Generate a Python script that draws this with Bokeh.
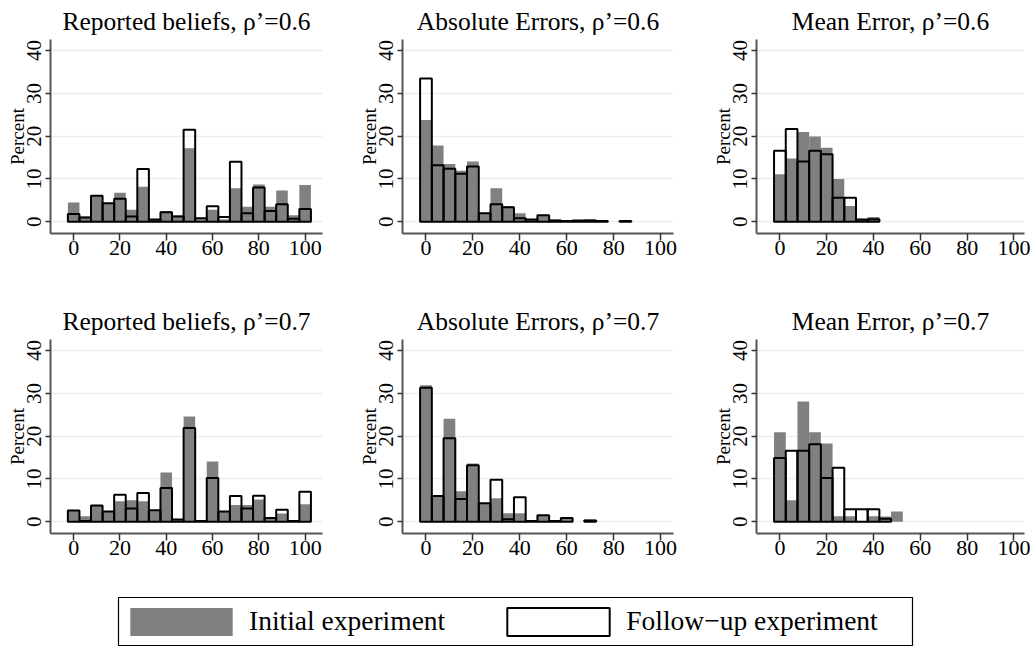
from bokeh.plotting import figure
from bokeh.layouts import column, row
from bokeh.models import Range1d, Legend, LegendItem, ColumnDataSource
from bokeh.embed import file_html
from bokeh.resources import INLINE

BIN_WIDTH = 5
x_ticks = [0, 20, 40, 60, 80, 100]
y_ticks = [0, 10, 20, 30, 40]

titles = ["Reported beliefs, ρ’=0.6", "Absolute Errors, ρ’=0.6", "Mean Error, ρ’=0.6",
          "Reported beliefs, ρ’=0.7", "Absolute Errors, ρ’=0.7", "Mean Error, ρ’=0.7"]

# bin centres for each histogram (percent of subjects per 5-point bin)
beliefs_bins = [0, 5, 10, 15, 20, 25, 30, 35, 40, 45, 50, 55, 60, 65, 70, 75, 80, 85, 90, 95, 100]
beliefs06_initial = [4.5, 1.2, 6.1, 4.3, 6.8, 2.8, 8.2, 0.4, 2.5, 1.5, 17.2, 0.6, 2.8, 0.6, 7.8, 3.5, 8.7, 3.5, 7.3, 1.5, 8.6]
beliefs06_followup = [1.8, 1.0, 6.1, 4.3, 5.4, 1.2, 12.3, 0.5, 2.2, 1.2, 21.5, 0.8, 3.6, 1.1, 14.0, 2.0, 8.0, 2.5, 4.1, 0.7, 3.0]
beliefs07_initial = [2.6, 1.3, 3.8, 2.4, 4.8, 5.0, 4.8, 2.7, 11.5, 0.3, 24.6, 0.2, 14.1, 2.4, 3.9, 3.9, 5.2, 0.9, 1.9, 0.0, 4.1]
beliefs07_followup = [2.6, 0.2, 3.8, 2.4, 6.3, 3.1, 6.7, 2.7, 7.9, 0.5, 21.9, 0.2, 10.2, 2.4, 6.0, 3.1, 6.1, 0.9, 2.8, 0.15, 7.0]

abserr06_bins = [0, 5, 10, 15, 20, 25, 30, 35, 40, 45, 50, 55, 60, 65, 70, 75, 80, 85]
abserr06_initial = [23.8, 17.8, 13.5, 11.9, 14.1, 2.0, 7.8, 3.6, 2.0, 0.5, 1.5, 0.5, 0.2, 0.4, 0.6, 0.2, 0.0, 0.2]
abserr06_followup = [33.5, 13.2, 12.4, 11.2, 12.9, 2.0, 4.1, 3.4, 0.8, 0.5, 1.5, 0.3, 0.2, 0.3, 0.3, 0.2, 0.0, 0.2]

abserr07_bins = [0, 5, 10, 15, 20, 25, 30, 35, 40, 45, 50, 55, 60, 65, 70]
abserr07_initial = [31.9, 6.0, 24.1, 7.1, 13.6, 4.3, 5.5, 2.0, 2.0, 0.2, 1.5, 0.1, 0.9, 0.0, 0.5]
abserr07_followup = [31.3, 6.0, 19.5, 5.3, 13.2, 4.3, 9.8, 0.6, 5.7, 0.2, 1.5, 0.2, 0.9, 0.0, 0.3]

meanerr06_bins = [0, 5, 10, 15, 20, 25, 30, 35, 40]
meanerr06_initial = [11.1, 14.8, 21.0, 19.9, 17.3, 10.0, 3.7, 0.6, 1.1]
meanerr06_followup = [16.6, 21.7, 14.1, 16.6, 15.8, 5.6, 5.6, 0.5, 0.6]

meanerr07_bins = [0, 5, 10, 15, 20, 25, 30, 35, 40, 45, 50]
meanerr07_initial = [20.9, 5.0, 28.1, 20.9, 18.3, 1.3, 1.3, 0.0, 1.3, 1.2, 2.4]
meanerr07_followup = [14.9, 16.6, 16.6, 18.1, 10.2, 12.6, 2.9, 2.9, 2.9, 0.7, 0.0]

legend_labels = ["Initial experiment", "Follow\u2212up experiment"]

GRAY = "#808080"
SERIF = "Liberation Serif"

panels = [
    (beliefs_bins, beliefs06_initial, beliefs06_followup),
    (abserr06_bins, abserr06_initial, abserr06_followup),
    (meanerr06_bins, meanerr06_initial, meanerr06_followup),
    (beliefs_bins, beliefs07_initial, beliefs07_followup),
    (abserr07_bins, abserr07_initial, abserr07_followup),
    (meanerr07_bins, meanerr07_initial, meanerr07_followup),
]

# layout per column: (fig width, border left, border right, x max)
col_geom = [(340, 50, 18, 107.5), (340, 62, 7, 105.5), (351, 76, 7, 104.5)]


def make_source(bins, vals):
    b = [c for c, v in zip(bins, vals) if v > 0]
    v = [v for v in vals if v > 0]
    return ColumnDataSource(dict(left=[c - BIN_WIDTH / 2 for c in b],
                                 right=[c + BIN_WIDTH / 2 for c in b],
                                 top=v, bottom=[0] * len(v)))


def make_panel(i):
    bins, init, follow = panels[i]
    w, bl, br, xmax = col_geom[i % 3]
    h = 300 if i < 3 else 290
    bb = h - 37 - 196
    p = figure(width=w, height=h, output_backend="svg", toolbar_location=None,
               x_range=Range1d(-10, xmax), y_range=Range1d(-2.75, 42.6),
               min_border_left=bl, min_border_right=br, min_border_top=37,
               min_border_bottom=bb, title=titles[i])
    p.outline_line_color = None
    p.background_fill_color = "white"
    p.border_fill_color = "white"
    p.title.text_font = SERIF
    p.title.text_font_size = "25.5px"
    p.title.text_font_style = "normal"
    p.title.align = "center"
    p.title.standoff = 8
    p.title.text_color = "black"

    p.quad(source=make_source(bins, init), left="left", right="right", top="top",
           bottom="bottom", fill_color=GRAY, line_color=None)
    p.quad(source=make_source(bins, follow), left="left", right="right", top="top",
           bottom="bottom", fill_color=None, line_color="black", line_width=2)

    p.xgrid.visible = False
    p.ygrid.ticker = y_ticks
    p.ygrid.grid_line_color = "#E6EFF1"
    p.ygrid.grid_line_width = 1.5

    p.xaxis.ticker = x_ticks
    p.yaxis.ticker = y_ticks
    for ax in (p.xaxis, p.yaxis):
        ax.axis_line_color = "#555555"
        ax.axis_line_width = 2
        ax.major_tick_line_color = "#333333"
        ax.major_tick_line_width = 1.5
        ax.major_tick_in = 0
        ax.minor_tick_line_color = None
        ax.major_label_text_font = SERIF
        ax.major_label_text_color = "black"
    p.xaxis.major_tick_out = 7
    p.xaxis.major_label_text_font_size = "22px"
    p.xaxis.major_label_standoff = 0
    p.yaxis.major_tick_out = 5
    p.yaxis.major_label_text_font_size = "21px"
    p.yaxis.major_label_orientation = "vertical"
    p.yaxis.major_label_standoff = 4
    p.yaxis.axis_label = "Percent"
    p.yaxis.axis_label_text_font = SERIF
    p.yaxis.axis_label_text_font_size = "19px"
    p.yaxis.axis_label_text_font_style = "normal"
    p.yaxis.axis_label_text_color = "black"
    p.yaxis.axis_label_standoff = -3
    return p


figs = [make_panel(i) for i in range(6)]

# legend strip
lg = figure(width=1031, height=56, output_backend="svg", toolbar_location=None,
            x_range=Range1d(0, 1), y_range=Range1d(0, 1),
            min_border_left=118, min_border_right=119, min_border_top=7,
            min_border_bottom=1, x_axis_location=None, y_axis_location=None)
lg.grid.visible = False
lg.outline_line_color = "black"
lg.outline_line_width = 1.2
nan = float("nan")
r1 = lg.quad(left=[nan], right=[nan], top=[nan], bottom=[nan],
             fill_color=GRAY, line_color=None)
r2 = lg.quad(left=[nan], right=[nan], top=[nan], bottom=[nan],
             fill_color="white", line_color="black", line_width=2)
legend = Legend(items=[LegendItem(label=legend_labels[0], renderers=[r1], index=0),
                       LegendItem(label=legend_labels[1], renderers=[r2], index=0)],
                orientation="horizontal", location=(-1, 6.5),
                glyph_width=128, glyph_height=35, label_standoff=4, spacing=49,
                padding=0, margin=0, border_line_color=None,
                background_fill_alpha=0,
                label_text_font=SERIF, label_text_font_size="27.5px",
                label_text_color="black", label_height=30)
lg.add_layout(legend)

layout = column(row(*figs[:3]), row(*figs[3:]), lg)

open("out.html", "w").write(file_html(layout, INLINE))
